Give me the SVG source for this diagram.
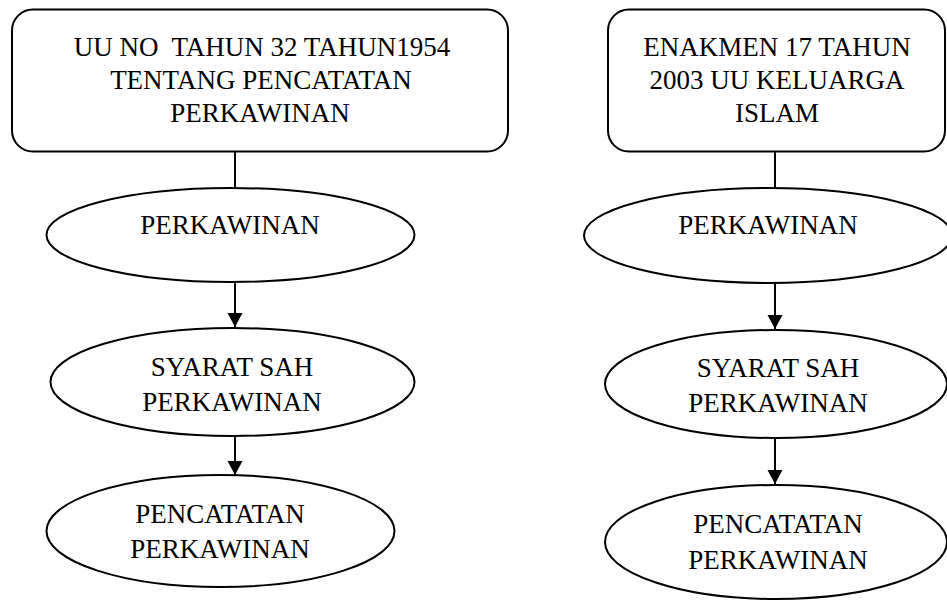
<svg xmlns="http://www.w3.org/2000/svg" width="947" height="601" viewBox="0 0 947 601">
<style>
.box{fill:#fff;stroke:#000;stroke-width:2}
.ell{fill:#fff;stroke:#000;stroke-width:2}
.conn{fill:none;stroke:#000;stroke-width:2}
text{font-family:"Liberation Serif","Times New Roman",serif;font-size:27px;fill:#000;text-anchor:middle}
</style>
<defs>
<marker id="arr" markerUnits="userSpaceOnUse" markerWidth="15" markerHeight="16" refX="14" refY="8" orient="auto">
<path d="M0,0.5 L14,8 L0,15.5 z" fill="#000"/>
</marker>
</defs>
<rect width="947" height="601" fill="#fff"/>
<g id="connectors">
<line class="conn" x1="235" y1="152" x2="235" y2="188"/>
<line class="conn" x1="235" y1="282" x2="235" y2="327" marker-end="url(#arr)"/>
<line class="conn" x1="235" y1="436" x2="235" y2="475" marker-end="url(#arr)"/>
<line class="conn" x1="775" y1="152" x2="775" y2="188"/>
<line class="conn" x1="775" y1="283" x2="775" y2="329" marker-end="url(#arr)"/>
<line class="conn" x1="775" y1="438" x2="775" y2="484" marker-end="url(#arr)"/>
</g>
<g id="box-left">
<rect class="box" x="12" y="9.5" width="496" height="142" rx="21" ry="21"/>
<text x="262" y="56" xml:space="preserve">UU NO  TAHUN 32 TAHUN1954</text>
<text x="261" y="89">TENTANG PENCATATAN</text>
<text x="260" y="122">PERKAWINAN</text>
</g>
<g id="ell-left-1">
<ellipse class="ell" cx="230.5" cy="235" rx="184" ry="47"/>
<text x="230" y="234">PERKAWINAN</text>
</g>
<g id="ell-left-2">
<ellipse class="ell" cx="232.5" cy="382" rx="182" ry="54"/>
<text x="232" y="376">SYARAT SAH</text>
<text x="232" y="411">PERKAWINAN</text>
</g>
<g id="ell-left-3">
<ellipse class="ell" cx="220.5" cy="531" rx="174" ry="56"/>
<text x="220" y="523">PENCATATAN</text>
<text x="220" y="558">PERKAWINAN</text>
</g>
<g id="box-right">
<rect class="box" x="608" y="9.5" width="337" height="142" rx="21" ry="21"/>
<text x="777" y="56">ENAKMEN 17 TAHUN</text>
<text x="777" y="89">2003 UU KELUARGA</text>
<text x="777" y="122">ISLAM</text>
</g>
<g id="ell-right-1">
<ellipse class="ell" cx="768" cy="235.5" rx="184" ry="47.5"/>
<text x="768" y="234">PERKAWINAN</text>
</g>
<g id="ell-right-2">
<ellipse class="ell" cx="776" cy="384" rx="171" ry="54"/>
<text x="778" y="377">SYARAT SAH</text>
<text x="778" y="412">PERKAWINAN</text>
</g>
<g id="ell-right-3">
<ellipse class="ell" cx="776" cy="542" rx="171" ry="57"/>
<text x="778" y="533">PENCATATAN</text>
<text x="778" y="569">PERKAWINAN</text>
</g>
</svg>
